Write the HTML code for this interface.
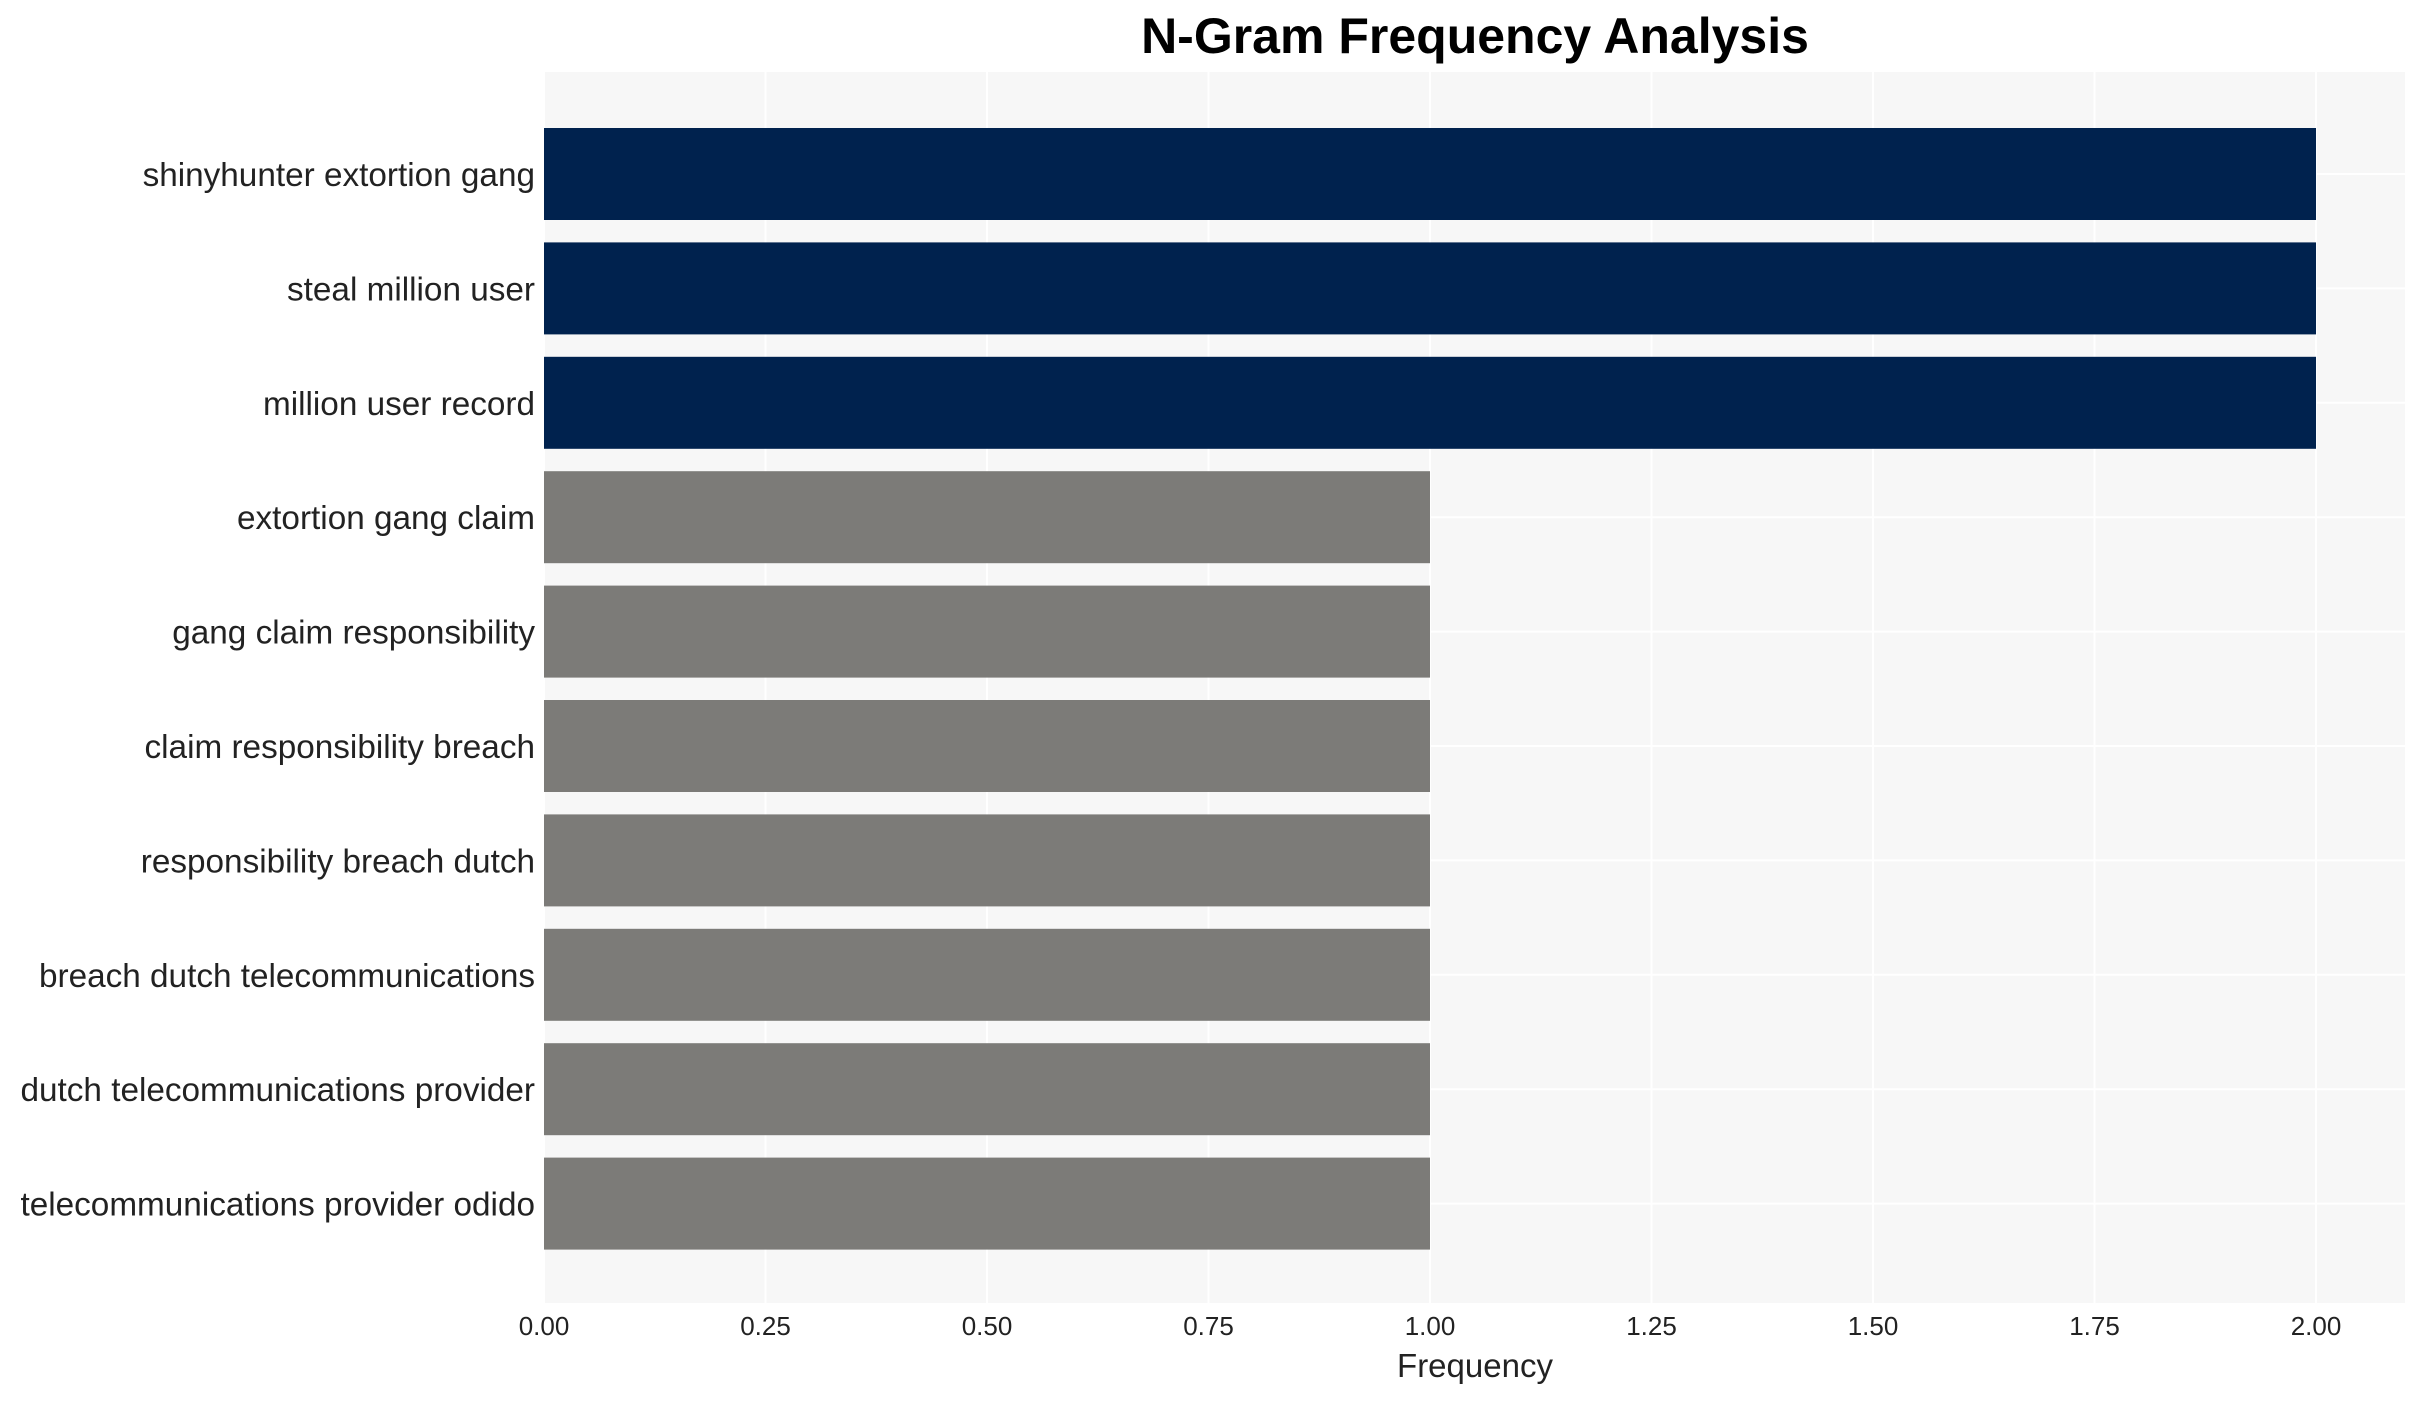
<!DOCTYPE html>
<html><head><meta charset="utf-8"><style>
html,body{margin:0;padding:0;background:#fff;}
svg{display:block;font-family:"Liberation Sans",Arial,sans-serif;}
</style></head><body>
<svg width="2424" height="1402" viewBox="0 0 2424 1402" xmlns="http://www.w3.org/2000/svg">
<rect width="2424" height="1402" fill="#fff"/>
<rect x="544" y="72" width="1861" height="1231" fill="#f7f7f7"/>
<g stroke="#ffffff" stroke-width="2">
<line x1="544" y1="72" x2="544" y2="1303"/>
<line x1="765.5" y1="72" x2="765.5" y2="1303"/>
<line x1="987" y1="72" x2="987" y2="1303"/>
<line x1="1208.5" y1="72" x2="1208.5" y2="1303"/>
<line x1="1430" y1="72" x2="1430" y2="1303"/>
<line x1="1651.5" y1="72" x2="1651.5" y2="1303"/>
<line x1="1873" y1="72" x2="1873" y2="1303"/>
<line x1="2094.5" y1="72" x2="2094.5" y2="1303"/>
<line x1="2316" y1="72" x2="2316" y2="1303"/>
<line x1="544" y1="174" x2="2405" y2="174"/>
<line x1="544" y1="288.4" x2="2405" y2="288.4"/>
<line x1="544" y1="402.8" x2="2405" y2="402.8"/>
<line x1="544" y1="517.2" x2="2405" y2="517.2"/>
<line x1="544" y1="631.6" x2="2405" y2="631.6"/>
<line x1="544" y1="746" x2="2405" y2="746"/>
<line x1="544" y1="860.4" x2="2405" y2="860.4"/>
<line x1="544" y1="974.8" x2="2405" y2="974.8"/>
<line x1="544" y1="1089.2" x2="2405" y2="1089.2"/>
<line x1="544" y1="1203.6" x2="2405" y2="1203.6"/>
</g>
<g>
<rect x="544" y="128" width="1772" height="92" fill="#00224e"/>
<rect x="544" y="242.4" width="1772" height="92" fill="#00224e"/>
<rect x="544" y="356.8" width="1772" height="92" fill="#00224e"/>
<rect x="544" y="471.2" width="886" height="92" fill="#7c7b78"/>
<rect x="544" y="585.6" width="886" height="92" fill="#7c7b78"/>
<rect x="544" y="700" width="886" height="92" fill="#7c7b78"/>
<rect x="544" y="814.4" width="886" height="92" fill="#7c7b78"/>
<rect x="544" y="928.8" width="886" height="92" fill="#7c7b78"/>
<rect x="544" y="1043.2" width="886" height="92" fill="#7c7b78"/>
<rect x="544" y="1157.6" width="886" height="92" fill="#7c7b78"/>
</g>
<g font-size="33.3" fill="#222" text-anchor="end">
<text x="535" y="186">shinyhunter extortion gang</text>
<text x="535" y="300.4">steal million user</text>
<text x="535" y="414.8">million user record</text>
<text x="535" y="529.2">extortion gang claim</text>
<text x="535" y="643.6">gang claim responsibility</text>
<text x="535" y="758">claim responsibility breach</text>
<text x="535" y="872.4">responsibility breach dutch</text>
<text x="535" y="986.8">breach dutch telecommunications</text>
<text x="535" y="1101.2">dutch telecommunications provider</text>
<text x="535" y="1215.6">telecommunications provider odido</text>
</g>
<g font-size="26" fill="#222" text-anchor="middle">
<text x="544" y="1335">0.00</text>
<text x="765.5" y="1335">0.25</text>
<text x="987" y="1335">0.50</text>
<text x="1208.5" y="1335">0.75</text>
<text x="1430" y="1335">1.00</text>
<text x="1651.5" y="1335">1.25</text>
<text x="1873" y="1335">1.50</text>
<text x="2094.5" y="1335">1.75</text>
<text x="2316" y="1335">2.00</text>
</g>
<text x="1475" y="1377" font-size="33" fill="#222" text-anchor="middle">Frequency</text>
<text x="1475" y="53" font-size="50" font-weight="bold" fill="#000" text-anchor="middle">N-Gram Frequency Analysis</text>
</svg>
</body></html>
